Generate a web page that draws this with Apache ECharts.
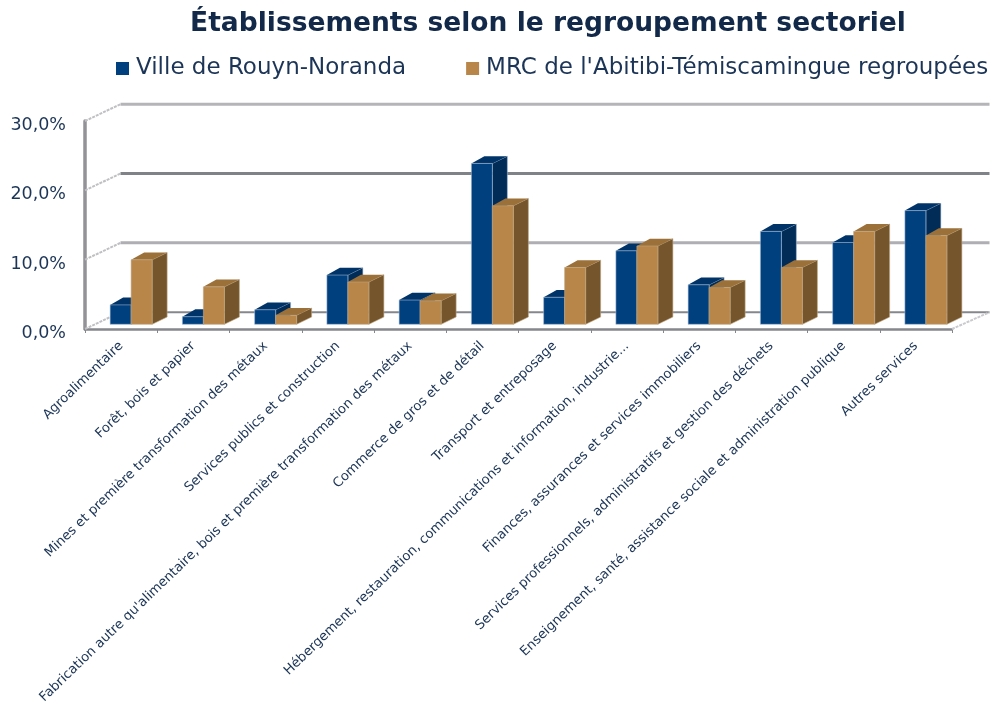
<!DOCTYPE html>
<html><head><meta charset="utf-8">
<style>html,body{margin:0;padding:0;background:#fff}#c{width:994px;height:708px}</style>
<script src="https://cdn.jsdelivr.net/npm/echarts@6/dist/echarts.min.js"></script>
</head><body><div id="c"></div>
<script>
const categories = ["Agroalimentaire","Forêt, bois et papier","Mines et première transformation des métaux","Services publics et construction","Fabrication autre qu'alimentaire, bois et première transformation des métaux","Commerce de gros et de détail","Transport et entreposage","Hébergement, restauration, communications et information, industrie...","Finances, assurances et services immobiliers","Services professionnels, administratifs et gestion des déchets","Enseignement, santé, assistance sociale et administration publique","Autres services"];
const rouyn = [2.8,1.1,2.1,7.1,3.5,23.2,3.9,10.6,5.7,13.4,11.8,16.4];
const mrc = [9.3,5.4,1.3,6.1,3.4,17.1,8.2,11.3,5.3,8.2,13.4,12.8];
const yTicks = [0,10,20,30];
const seriesNames = ["Ville de Rouyn-Noranda","MRC de l'Abitibi-Témiscamingue regroupées"];

const TEXT='#1c3557';
const WALL={dx:35.5,dy:-16.8};
const FLOOR={dx:10,dy:-4.7};
const DEPTH={dx:15,dy:-7.3};
const BAR_W=21;
const GRID_STYLE={0:{c:'#85878c',w:2},10:{c:'#aeaeb3',w:3},20:{c:'#7f8287',w:3},30:{c:'#b4b4b9',w:3}};

function wallItem(params,api){
  const v=api.value(1), p=api.coord([0,v]), band=api.size([1,0])[0];
  const left=p[0]-band/2, right=left+band*categories.length;
  const st=GRID_STYLE[v];
  const kids=[
    {type:'line',shape:{x1:left,y1:p[1],x2:left+WALL.dx,y2:p[1]+WALL.dy},style:{stroke:'#c0c0c4',lineWidth:2,lineDash:[3,1]}},
    {type:'line',shape:{x1:left+WALL.dx,y1:p[1]+WALL.dy,x2:right+WALL.dx+2,y2:p[1]+WALL.dy},style:{stroke:st.c,lineWidth:st.w}}
  ];
  if(v===0) kids.push({type:'line',shape:{x1:right,y1:p[1],x2:right+WALL.dx+2,y2:p[1]+WALL.dy},style:{stroke:'#cacace',lineWidth:2,lineDash:[3,1]}});
  return {type:'group',children:kids};
}
function barRenderer(offset,front,side,top,halo){
  return function(params,api){
    const i=api.value(0), v=api.value(1);
    const c0=api.coord([i,0]), c1=api.coord([i,v]);
    const x0=c0[0]+FLOOR.dx+offset*BAR_W-BAR_W;
    const x1=x0+BAR_W, yb=c0[1]+FLOOR.dy, yt=c1[1]+FLOOR.dy;
    const d=DEPTH;
    return {type:'group',children:[
      {type:'polygon',shape:{points:[[x1,yt],[x1+d.dx,yt+d.dy],[x1+d.dx,yb+d.dy],[x1,yb]]},style:{fill:side,stroke:halo,lineWidth:1}},
      {type:'polygon',shape:{points:[[x0,yt],[x0+d.dx-2,yt+d.dy],[x1+d.dx,yt+d.dy],[x1,yt]]},style:{fill:top}},
      {type:'rect',shape:{x:x0,y:yt,width:BAR_W,height:yb-yt},style:{fill:front,stroke:halo,lineWidth:1}}
    ]};
  };
}
const chart=echarts.init(document.getElementById('c'),null,{renderer:'canvas'});
chart.setOption({
  animation:false,
  backgroundColor:'#fff',
  title:{text:"Établissements selon le regroupement sectoriel",left:543,textAlign:'center',top:6,
    textStyle:{fontFamily:'DejaVu Sans',fontWeight:'bold',fontSize:26.5,color:'#12294a'}},
  legend:{left:111,top:52,icon:'rect',itemWidth:13,itemHeight:13,itemGap:60,data:seriesNames,
    textStyle:{fontFamily:'DejaVu Sans',fontSize:23,color:TEXT,padding:[3,0,0,2]}},
  grid:{left:85,right:42,top:121,bottom:379,containLabel:false,outerBoundsMode:'none'},
  xAxis:{type:'category',data:categories,boundaryGap:true,
    axisLine:{lineStyle:{color:'#85878c',width:2.5}},
    axisTick:{show:true,length:4,lineStyle:{color:'#85878c',width:1}},
    splitLine:{show:false},
    axisLabel:{interval:0,rotate:44,margin:15,padding:[8,0,0,0],fontFamily:'DejaVu Sans',fontSize:13.2,color:TEXT}},
  yAxis:{type:'value',min:0,max:30,interval:10,
    axisLine:{show:true,lineStyle:{color:'#929297',width:3.5}},
    axisTick:{show:false},splitLine:{show:false},
    axisLabel:{margin:19,verticalAlign:'top',lineHeight:9,fontFamily:'DejaVu Sans',fontSize:17.5,color:TEXT,formatter:v=>v.toFixed(1).replace('.',',')+'%'}},
  series:[
    {type:'custom',silent:true,z:1,renderItem:wallItem,data:yTicks.map(v=>[0,v]),encode:{x:0,y:1}},
    {type:'custom',name:seriesNames[0],z:2,itemStyle:{color:'#00407f'},
      renderItem:barRenderer(0,'#00407f','#002c57','#003468','rgba(170,190,215,0.55)'),
      data:rouyn.map((v,i)=>[i,v]),encode:{x:0,y:1}},
    {type:'custom',name:seriesNames[1],z:3,itemStyle:{color:'#b9864a'},
      renderItem:barRenderer(1,'#b9864a','#75552c','#9b7039','rgba(190,165,130,0.6)'),
      data:mrc.map((v,i)=>[i,v]),encode:{x:0,y:1}}
  ]
});
</script></body></html>
